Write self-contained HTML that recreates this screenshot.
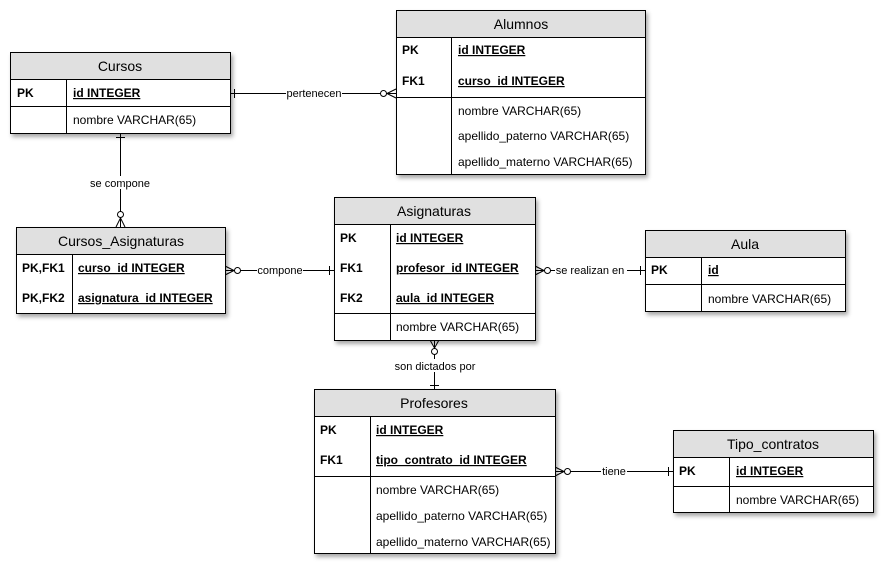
<!DOCTYPE html>
<html><head><meta charset="utf-8"><style>
html,body{margin:0;padding:0;background:#fff;}
svg{display:block;font-family:"Liberation Sans",Arial,sans-serif;}
.t{filter:drop-shadow(2px 3px 2px rgba(0,0,0,0.35));}
.h{font-size:14px;text-anchor:middle;fill:#000;}
.b{font-size:12px;font-weight:bold;fill:#000;}
.u{font-size:12px;font-weight:bold;text-decoration:underline;fill:#000;}
.n{font-size:12px;fill:#000;}
.l{font-size:11px;fill:#000;text-anchor:middle;}
</style></head><body>
<svg width="890" height="572" viewBox="0 0 890 572">
<g stroke="#000" stroke-width="1" fill="none">
<line x1="230" y1="93.5" x2="396" y2="93.5"/>
<line x1="234.5" y1="89" x2="234.5" y2="98"/>
<circle cx="383.5" cy="93.5" r="3" fill="#fff"/>
<line x1="387" y1="93.5" x2="396" y2="89"/><line x1="387" y1="93.5" x2="396" y2="98"/>

<line x1="120.5" y1="133" x2="120.5" y2="227"/>
<line x1="116" y1="137.5" x2="125" y2="137.5"/>
<circle cx="120.5" cy="214.5" r="3" fill="#fff"/>
<line x1="120.5" y1="218" x2="116" y2="227"/><line x1="120.5" y1="218" x2="125" y2="227"/>

<line x1="225" y1="270.5" x2="334" y2="270.5"/>
<circle cx="237.5" cy="270.5" r="3" fill="#fff"/>
<line x1="234" y1="270.5" x2="225" y2="266"/><line x1="234" y1="270.5" x2="225" y2="275"/>
<line x1="329.5" y1="266" x2="329.5" y2="275"/>

<line x1="535" y1="270.5" x2="645" y2="270.5"/>
<circle cx="547.5" cy="270.5" r="3" fill="#fff"/>
<line x1="544" y1="270.5" x2="535" y2="266"/><line x1="544" y1="270.5" x2="535" y2="275"/>
<line x1="640.5" y1="266" x2="640.5" y2="275"/>

<line x1="434.5" y1="340" x2="434.5" y2="389"/>
<circle cx="434.5" cy="351.5" r="3" fill="#fff"/>
<line x1="434.5" y1="348" x2="430" y2="340"/><line x1="434.5" y1="348" x2="439" y2="340"/>
<line x1="430" y1="385.5" x2="439" y2="385.5"/>

<line x1="555" y1="471.5" x2="673" y2="471.5"/>
<circle cx="567.5" cy="471.5" r="3" fill="#fff"/>
<line x1="564" y1="471.5" x2="555" y2="467"/><line x1="564" y1="471.5" x2="555" y2="476"/>
<line x1="668.5" y1="467" x2="668.5" y2="476"/>
</g>
<rect x="286" y="87" width="56" height="13" fill="#fff"/><text class="l" x="314" y="97">pertenecen</text>
<rect x="88" y="176" width="64" height="13" fill="#fff"/><text class="l" x="120" y="187">se compone</text>
<rect x="257" y="264" width="46" height="13" fill="#fff"/><text class="l" x="280" y="274">compone</text>
<rect x="555" y="264" width="72" height="13" fill="#fff"/><text class="l" x="590" y="274">se realizan en</text>
<rect x="393" y="359" width="84" height="13" fill="#fff"/><text class="l" x="435" y="370">son dictados por</text>
<rect x="601" y="465" width="26" height="13" fill="#fff"/><text class="l" x="614" y="475">tiene</text>

<g class="t"><rect x="10.5" y="52.5" width="220" height="81" fill="#fff" stroke="#000"/></g>
<rect x="10.5" y="52.5" width="220" height="27" fill="#e0e0e0" stroke="#000"/>
<g stroke="#000"><line x1="10" y1="106.5" x2="230" y2="106.5"/><line x1="66.5" y1="79" x2="66.5" y2="133"/></g>
<text class="h" x="120" y="71">Cursos</text>
<text class="b" x="17" y="97">PK</text><text class="u" x="73" y="97">id INTEGER</text>
<text class="n" x="73" y="124">nombre VARCHAR(65)</text>

<g class="t"><rect x="396.5" y="10.5" width="249" height="164" fill="#fff" stroke="#000"/></g>
<rect x="396.5" y="10.5" width="249" height="27" fill="#e0e0e0" stroke="#000"/>
<g stroke="#000"><line x1="396" y1="97.5" x2="645" y2="97.5"/><line x1="451.5" y1="37" x2="451.5" y2="174"/></g>
<text class="h" x="521" y="29">Alumnos</text>
<text class="b" x="402" y="54">PK</text><text class="u" x="458" y="54">id INTEGER</text>
<text class="b" x="402" y="85">FK1</text><text class="u" x="458" y="85">curso_id INTEGER</text>
<text class="n" x="458" y="115">nombre VARCHAR(65)</text>
<text class="n" x="458" y="140">apellido_paterno VARCHAR(65)</text>
<text class="n" x="458" y="166">apellido_materno VARCHAR(65)</text>

<g class="t"><rect x="16.5" y="227.5" width="209" height="86" fill="#fff" stroke="#000"/></g>
<rect x="16.5" y="227.5" width="209" height="27" fill="#e0e0e0" stroke="#000"/>
<g stroke="#000"><line x1="72.5" y1="254" x2="72.5" y2="313"/></g>
<text class="h" x="121" y="246">Cursos_Asignaturas</text>
<text class="b" x="22" y="272">PK,FK1</text><text class="u" x="78" y="272">curso_id INTEGER</text>
<text class="b" x="22" y="302">PK,FK2</text><text class="u" x="78" y="302">asignatura_id INTEGER</text>

<g class="t"><rect x="334.5" y="197.5" width="201" height="143" fill="#fff" stroke="#000"/></g>
<rect x="334.5" y="197.5" width="201" height="27" fill="#e0e0e0" stroke="#000"/>
<g stroke="#000"><line x1="334" y1="313.5" x2="535" y2="313.5"/><line x1="390.5" y1="224" x2="390.5" y2="340"/></g>
<text class="h" x="434" y="216">Asignaturas</text>
<text class="b" x="340" y="242">PK</text><text class="u" x="396" y="242">id INTEGER</text>
<text class="b" x="340" y="272">FK1</text><text class="u" x="396" y="272">profesor_id INTEGER</text>
<text class="b" x="340" y="302">FK2</text><text class="u" x="396" y="302">aula_id INTEGER</text>
<text class="n" x="396" y="331">nombre VARCHAR(65)</text>

<g class="t"><rect x="645.5" y="230.5" width="200" height="81" fill="#fff" stroke="#000"/></g>
<rect x="645.5" y="230.5" width="200" height="27" fill="#e0e0e0" stroke="#000"/>
<g stroke="#000"><line x1="645" y1="284.5" x2="845" y2="284.5"/><line x1="701.5" y1="257" x2="701.5" y2="311"/></g>
<text class="h" x="745" y="249">Aula</text>
<text class="b" x="651" y="274">PK</text><text class="u" x="708" y="274">id</text>
<text class="n" x="708" y="303">nombre VARCHAR(65)</text>

<g class="t"><rect x="314.5" y="389.5" width="241" height="164" fill="#fff" stroke="#000"/></g>
<rect x="314.5" y="389.5" width="241" height="27" fill="#e0e0e0" stroke="#000"/>
<g stroke="#000"><line x1="314" y1="476.5" x2="555" y2="476.5"/><line x1="370.5" y1="416" x2="370.5" y2="553"/></g>
<text class="h" x="434" y="408">Profesores</text>
<text class="b" x="320" y="434">PK</text><text class="u" x="376" y="434">id INTEGER</text>
<text class="b" x="320" y="464">FK1</text><text class="u" x="376" y="464">tipo_contrato_id INTEGER</text>
<text class="n" x="376" y="494">nombre VARCHAR(65)</text>
<text class="n" x="376" y="520">apellido_paterno VARCHAR(65)</text>
<text class="n" x="376" y="546">apellido_materno VARCHAR(65)</text>

<g class="t"><rect x="673.5" y="430.5" width="200" height="82" fill="#fff" stroke="#000"/></g>
<rect x="673.5" y="430.5" width="200" height="27" fill="#e0e0e0" stroke="#000"/>
<g stroke="#000"><line x1="673" y1="486.5" x2="873" y2="486.5"/><line x1="729.5" y1="457" x2="729.5" y2="512"/></g>
<text class="h" x="773" y="449">Tipo_contratos</text>
<text class="b" x="679" y="475">PK</text><text class="u" x="736" y="475">id INTEGER</text>
<text class="n" x="736" y="504">nombre VARCHAR(65)</text>
</svg>
</body></html>
